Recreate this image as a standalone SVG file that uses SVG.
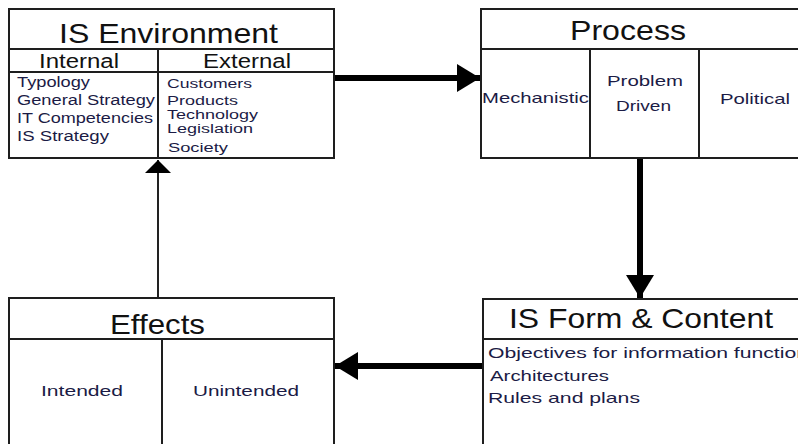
<svg xmlns="http://www.w3.org/2000/svg" width="798" height="444" viewBox="0 0 798 444">
<style>
.box{fill:#fff;stroke:#1e1e1e;stroke-width:2}
.div{stroke:#1e1e1e;stroke-width:2;fill:none}
.t{font-family:"Liberation Sans",Arial,sans-serif;fill:#111}
.title{font-size:28px}
.sub{font-size:20px}
.item{font-size:14px;fill:#1b1b45}
.item2{font-size:12.5px;fill:#1b1b45}
.cell{font-size:15px;fill:#1b1b45}
.thick{stroke:#000;stroke-width:6;fill:none}
.thin{stroke:#222;stroke-width:2;fill:none}
</style>
<defs>
<marker id="big" markerUnits="userSpaceOnUse" markerWidth="24" markerHeight="30" refX="23" refY="15" orient="auto">
<path d="M0,1 L23,15 L0,29 Z" fill="#000"/>
</marker>
<marker id="small" markerUnits="userSpaceOnUse" markerWidth="14" markerHeight="28" refX="13" refY="14" orient="auto">
<path d="M0,1 L13,14 L0,27 Z" fill="#000"/>
</marker>
</defs>
<g id="connectors">
<line class="thick" x1="334" y1="78" x2="480" y2="78" marker-end="url(#big)"/>
<line class="thick" x1="640" y1="158" x2="640" y2="298" marker-end="url(#big)"/>
<line class="thick" x1="483" y1="366" x2="335" y2="366" marker-end="url(#big)"/>
<line class="thin" x1="158" y1="298" x2="158" y2="160" marker-end="url(#small)"/>
</g>
<g id="is-environment">
<rect class="box" x="9" y="9" width="325" height="149"/>
<line class="div" x1="9" y1="49" x2="334" y2="49"/>
<line class="div" x1="9" y1="72" x2="334" y2="72"/>
<line class="div" x1="158" y1="49" x2="158" y2="158"/>
<text class="t title" x="59" y="43" textLength="219" lengthAdjust="spacingAndGlyphs">IS Environment</text>
<text class="t sub" x="39" y="68" textLength="80" lengthAdjust="spacingAndGlyphs">Internal</text>
<text class="t sub" x="203" y="68" textLength="88" lengthAdjust="spacingAndGlyphs">External</text>
<text class="t item" x="17" y="87" textLength="73" lengthAdjust="spacingAndGlyphs">Typology</text>
<text class="t item" x="17" y="105" textLength="138" lengthAdjust="spacingAndGlyphs">General Strategy</text>
<text class="t item" x="17" y="123" textLength="136" lengthAdjust="spacingAndGlyphs">IT Competencies</text>
<text class="t item" x="17" y="141" textLength="92" lengthAdjust="spacingAndGlyphs">IS Strategy</text>
<text class="t item2" x="167" y="88" textLength="85" lengthAdjust="spacingAndGlyphs">Customers</text>
<text class="t item2" x="167" y="105" textLength="71" lengthAdjust="spacingAndGlyphs">Products</text>
<text class="t item2" x="167" y="119" textLength="91" lengthAdjust="spacingAndGlyphs">Technology</text>
<text class="t item2" x="167" y="133" textLength="86" lengthAdjust="spacingAndGlyphs">Legislation</text>
<text class="t item2" x="168" y="152" textLength="60" lengthAdjust="spacingAndGlyphs">Society</text>
</g>
<g id="process">
<rect class="box" x="481" y="9" width="330" height="149"/>
<line class="div" x1="481" y1="49" x2="811" y2="49"/>
<line class="div" x1="590" y1="49" x2="590" y2="158"/>
<line class="div" x1="699" y1="49" x2="699" y2="158"/>
<text class="t title" x="570" y="40" textLength="116" lengthAdjust="spacingAndGlyphs">Process</text>
<text class="t cell" x="482" y="103" textLength="107" lengthAdjust="spacingAndGlyphs">Mechanistic</text>
<text class="t cell" x="607" y="86" textLength="76" lengthAdjust="spacingAndGlyphs">Problem</text>
<text class="t cell" x="616" y="111" textLength="55" lengthAdjust="spacingAndGlyphs">Driven</text>
<text class="t cell" x="720" y="104" textLength="70" lengthAdjust="spacingAndGlyphs">Political</text>
</g>
<g id="effects">
<rect class="box" x="9" y="298" width="325" height="160"/>
<line class="div" x1="9" y1="339" x2="334" y2="339"/>
<line class="div" x1="162" y1="339" x2="162" y2="458"/>
<text class="t title" x="110" y="334" textLength="95" lengthAdjust="spacingAndGlyphs">Effects</text>
<text class="t cell" x="41" y="396" textLength="82" lengthAdjust="spacingAndGlyphs">Intended</text>
<text class="t cell" x="193" y="396" textLength="106" lengthAdjust="spacingAndGlyphs">Unintended</text>
</g>
<g id="is-form-content">
<rect class="box" x="483" y="299" width="330" height="160"/>
<line class="div" x1="483" y1="339" x2="813" y2="339"/>
<text class="t title" x="509" y="328" textLength="264" lengthAdjust="spacingAndGlyphs">IS Form &amp; Content</text>
<text class="t cell" x="488" y="358" textLength="320" lengthAdjust="spacingAndGlyphs">Objectives for information function</text>
<text class="t cell" x="490" y="381" textLength="119" lengthAdjust="spacingAndGlyphs">Architectures</text>
<text class="t cell" x="488" y="403" textLength="152" lengthAdjust="spacingAndGlyphs">Rules and plans</text>
</g>
</svg>
